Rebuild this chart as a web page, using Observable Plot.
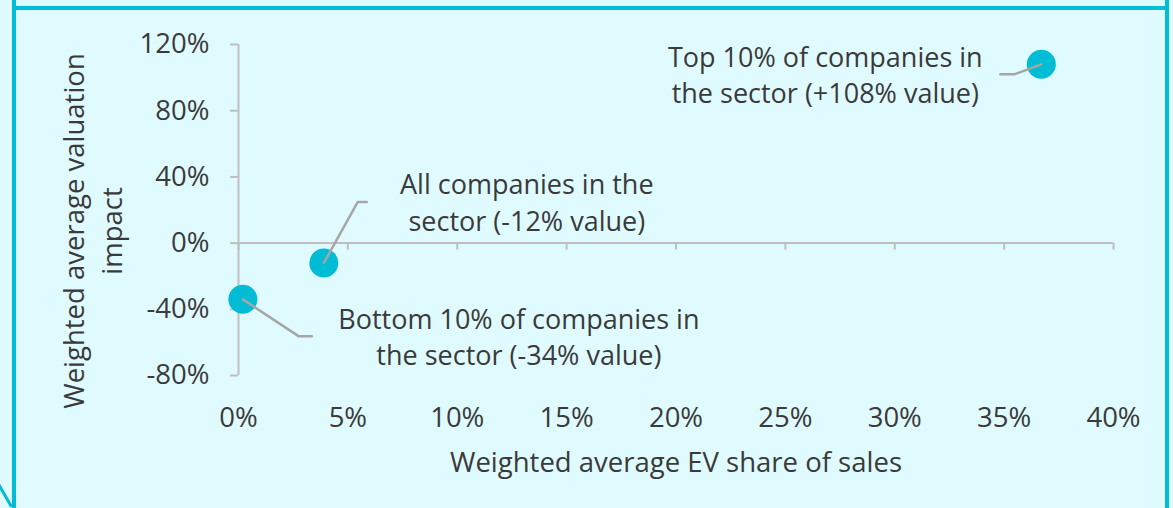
<!DOCTYPE html>
<html><head><meta charset="utf-8">
<script src="https://cdn.jsdelivr.net/npm/d3@7"></script>
<script src="https://cdn.jsdelivr.net/npm/@observablehq/plot@0.6"></script>
<style>
html,body{margin:0;padding:0;background:#e0fbff;}
#wrap{position:relative;width:1173px;height:508px;overflow:hidden;background:#e0fbff;}
.b{position:absolute;background:#00bcd4;}
#chart{position:absolute;left:0;top:0;}
</style></head><body>
<div id="wrap">
<div id="chart"></div>
<div class="b" style="left:13px;top:6px;width:1156px;height:4px"></div>
<div class="b" style="left:12px;top:0;width:4px;height:508px"></div>
<div class="b" style="left:1165px;top:0;width:4px;height:508px"></div>
<div class="b" style="left:-8px;top:494px;width:26px;height:3px;transform:rotate(60deg)"></div>
</div>
<script>
// ---- data ----
const groupLabels = [
  "Bottom 10% of companies in\nthe sector (-34% value)",
  "All companies in the\nsector (-12% value)",
  "Top 10% of companies in\nthe sector (+108% value)"
];
const evShare = [0.002, 0.039, 0.367];
const valuationImpact = [-0.34, -0.12, 1.08];
const xTicks = [0, 0.05, 0.10, 0.15, 0.20, 0.25, 0.30, 0.35, 0.40];
const yTicks = [-0.8, -0.4, 0, 0.4, 0.8, 1.2];
const xTitle = "Weighted average EV share of sales";
const yTitle = "Weighted average valuation\nimpact";

// ---- layout / style ----
const W = 1173, H = 508;
const mL = 238, mR = 60, mT = 44, mB = 133;
const xDomain = [0, 0.4], yDomain = [-0.8, 1.2];
const font = "'Open Sans', 'Noto Sans', sans-serif";
const textColor = "#3a3a3a";
const axisColor = "#bfbfbf";
const dotColor = "#00bcd4";
const leaderColor = "#a6a6a6";

const points = groupLabels.map((label, i) => ({label, x: evShare[i], y: valuationImpact[i]}));

// pixel helpers mirroring the Plot scales (for leader-line elbows given in pixel offsets)
const xs = d3.scaleLinear(xDomain, [mL, W - mR]);
const ys = d3.scaleLinear(yDomain, [H - mB, mT]);
// leader-line shapes as pixel offsets from each point (style)
const leaderOffsets = [
  [[0, 0], [56, 37], [69, 37]],
  [[0, 0], [34, -61], [43, -61]],
  [[0, 0], [-27, 10], [-41, 10]]
];
const labelOffsets = [[276, 36], [203, -62], [-216, 9]];

const leaders = points.flatMap((p, i) =>
  leaderOffsets[i].map(([ox, oy]) => ({
    id: i,
    x: xs.invert(xs(p.x) + ox),
    y: ys.invert(ys(p.y) + oy)
  }))
);

const fmt = d => `${Math.round(d * 100)}%`;

const plot = Plot.plot({
  width: W, height: H,
  marginLeft: mL, marginRight: mR, marginTop: mT, marginBottom: mB,
  style: {background: "transparent", fontFamily: font, color: textColor},
  x: {domain: xDomain, axis: null},
  y: {domain: yDomain, axis: null},
  marks: [
    // axis lines
    Plot.ruleX([0], {y1: yDomain[0], y2: yDomain[1], stroke: axisColor, strokeWidth: 2}),
    Plot.ruleY([0], {x1: xDomain[0], x2: xDomain[1], stroke: axisColor, strokeWidth: 2}),
    // y ticks (left of y axis)
    Plot.ruleY(yTicks, {x1: 0, x2: 0, insetLeft: -8, stroke: axisColor, strokeWidth: 2}),
    // x ticks (below the zero line)
    Plot.ruleX(xTicks, {y1: 0, y2: 0, insetBottom: -7, stroke: axisColor, strokeWidth: 2}),
    // y tick labels
    Plot.text(yTicks, {x: 0, y: d => d, text: d => fmt(d), textAnchor: "end", dx: -29, fontSize: 27.5, fill: textColor}),
    // x tick labels at the bottom of the frame
    Plot.text(xTicks, {x: d => d, frameAnchor: "bottom", lineAnchor: "middle", text: d => fmt(d), dy: 43, fontSize: 27.5, fill: textColor}),
    // axis titles
    Plot.text([xTitle], {frameAnchor: "bottom", lineAnchor: "middle", textAnchor: "middle", dy: 88, fontSize: 27.5, fill: textColor}),
    Plot.text([yTitle], {frameAnchor: "left", textAnchor: "middle", lineAnchor: "middle", dx: -148, dy: 21, rotate: -90, fontSize: 27.5, lineHeight: 1.4, fill: textColor}),
    // dots
    Plot.dot(points, {x: "x", y: "y", r: 14.5, fill: dotColor}),
    // leader lines
    Plot.line(leaders, {x: "x", y: "y", z: "id", stroke: leaderColor, strokeWidth: 2.5}),
    // annotations
    ...points.map((p, i) => Plot.text([p], {
      x: "x", y: "y", text: "label",
      dx: labelOffsets[i][0], dy: labelOffsets[i][1],
      fontSize: 27, lineHeight: 1.35, fill: textColor
    }))
  ]
});
document.getElementById("chart").appendChild(plot);
</script>
</body></html>
